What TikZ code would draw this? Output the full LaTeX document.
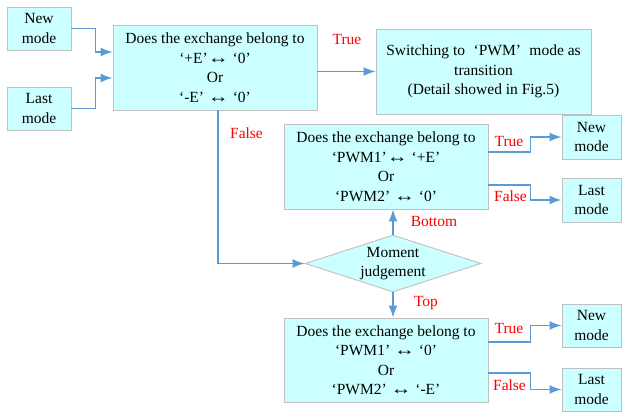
\documentclass[tikz,border=0pt]{standalone}
\usepackage{fontspec}
\setmainfont{Liberation Serif}
\usetikzlibrary{arrows.meta,shapes.geometric}
\definecolor{boxfill}{RGB}{204,255,255}
\definecolor{boxline}{RGB}{192,192,192}
\definecolor{flow}{RGB}{91,155,213}
\definecolor{lab}{RGB}{255,0,0}
% wide double arrow used in the exchange conditions
\newcommand{\xlr}{\scalebox{1.35}[1.1]{↔}}
\begin{document}
\begin{tikzpicture}[x=1pt,y=-1pt,
  txt/.style={font=\fontsize{15.5}{19.5}\selectfont},
  box/.style={txt,draw=boxline,fill=boxfill,line width=0.9pt,inner sep=0pt,align=center},
  modebox/.style={box,minimum width=64pt,minimum height=43pt},
  qbox/.style={box,minimum width=204pt,minimum height=85pt},
  arr/.style={draw=flow,line width=1.5pt,-{Latex[length=12pt,width=9pt]}},
  lbl/.style={txt,text=lab,inner sep=0pt}]
\useasboundingbox (0,0) rectangle (624,414);

% input modes
\node[modebox] (nm1) at (39,28.5) {New\\mode};
\node[modebox] (lm1) at (39,108.5) {Last\\mode};

% first decision
\node[qbox] (q1) at (215,67.5) {Does the exchange belong to\\‘+E’\xlr\ ‘0’\\Or\\‘-E’ \xlr\ ‘0’};
\node[box,minimum width=215pt,minimum height=85pt] (sw) at (483.5,71.5)
  {Switching to\hspace{0.55em}‘PWM’\hspace{0.55em}mode as\\transition\\(Detail showed in Fig.5)};

% moment judgement
\node[diamond,draw=boxline,fill=boxfill,line width=0.9pt,inner sep=0pt,
  minimum width=176pt,minimum height=57pt] (mj) at (393,263.5) {};
\node[txt,align=center,inner sep=0pt] (mjt) at (393,263.5) {Moment\\judgement};

% second-level decisions
\node[qbox] (q2) at (386,166.5) {Does the exchange belong to\\‘PWM1’\xlr\ ‘+E’\\Or\\‘PWM2’ \xlr\ ‘0’};
\node[qbox,minimum height=84pt] (q3) at (386,360) {Does the exchange belong to\\‘PWM1’ \xlr\ ‘0’\\Or\\‘PWM2’ \xlr\ ‘-E’};

% output modes
\node[modebox,minimum width=59pt,minimum height=44pt] (nm2) at (591.5,137) {New\\mode};
\node[modebox,minimum width=59pt,minimum height=44pt] (lm2) at (591.5,200) {Last\\mode};
\node[modebox,minimum width=59pt] (nm3) at (591.5,325.5) {New\\mode};
\node[modebox,minimum width=59pt] (lm3) at (591.5,389.5) {Last\\mode};

% connectors
\draw[arr] (nm1.east) -- ++(24,0) |- ([yshift=15.5pt]q1.west);
\draw[arr] (lm1.east) -- ++(24,0) |- ([yshift=-10.5pt]q1.west);
\draw[arr] (q1.east |- sw.west) -- (sw.west);
\draw[arr] ([xshift=3pt]q1.south) |- (mj.west);
\draw[arr] (mj.north) -- (mj.north |- q2.south);
\draw[arr] (mj.south) -- (mj.south |- q3.north);
\draw[arr] ([yshift=14.5pt]q2.east) -- ++(42,0) |- (nm2.west);
\draw[arr] ([yshift=-18.5pt]q2.east) -- ++(42,0) |- (lm2.west);
\draw[arr] ([yshift=18pt]q3.east) -- ++(42,0) |- (nm3.west);
\draw[arr] ([yshift=-13pt]q3.east) -- ++(42,0) |- (lm3.west);

% branch labels
\node[lbl] (t1) at (347,40) {True};
\node[lbl] (f1) at (246.5,133) {False};
\node[lbl] (bt) at (434,222) {Bottom};
\node[lbl] (tp) at (426,303) {Top};
\node[lbl] (t2) at (509,142) {True};
\node[lbl] (f2) at (510.5,196) {False};
\node[lbl] (t3) at (509,329) {True};
\node[lbl] (f3) at (509.5,385) {False};
\end{tikzpicture}
\end{document}
